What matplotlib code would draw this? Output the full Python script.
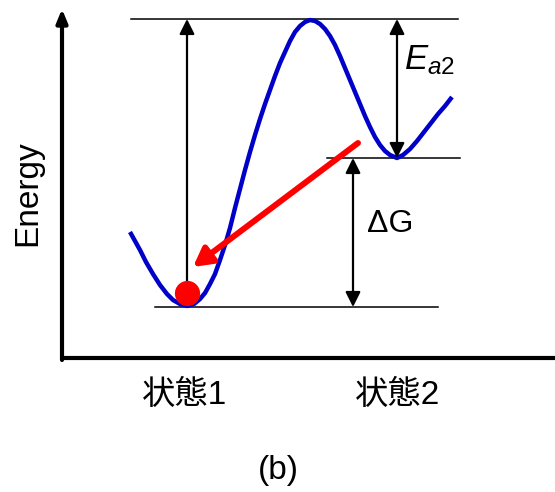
import numpy as np
import matplotlib.pyplot as plt

plt.rcParams['font.family'] = ['Liberation Sans', 'Noto Sans CJK JP', 'DejaVu Sans']
plt.rcParams['mathtext.fontset'] = 'custom'
plt.rcParams['mathtext.it'] = 'Liberation Sans:italic'
plt.rcParams['mathtext.rm'] = 'Liberation Sans'

# energy landscape (x, energy) in drawing units, y grows downward
curve_x = [130, 135, 140, 146, 153, 160, 167, 173, 180, 187, 194, 200, 205, 210, 215, 220,
           225, 230, 235, 240, 245, 250, 255, 260, 265, 270, 275, 280, 285, 290, 295, 300,
           305, 310, 315, 320, 325, 330, 335, 340, 345, 350, 355, 360, 365, 370, 375, 380,
           385, 390, 397, 403, 410, 417, 424, 431, 438, 445, 452]
curve_y = [232, 241, 250, 262, 274, 285, 294, 300, 304, 306, 304, 299, 293, 284, 274, 260,
           245, 228, 208, 189, 170, 152, 135, 119, 104, 90, 76, 63, 52, 41, 32, 26,
           22, 20, 21, 24, 29, 36, 45, 56, 68, 80, 92, 104, 116, 127, 137, 145,
           151, 155, 158, 155, 149, 141, 132, 123, 114, 106, 97]

levels = {'top': 19, 'state2': 158, 'state1': 307}
state_labels = ['状態1', '状態2']
state_x = [185, 398]

fig = plt.figure(figsize=(5.55, 4.92), dpi=100)
ax = fig.add_axes([0, 0, 1, 1])
ax.set_xlim(0, 555)
ax.set_ylim(492, 0)
ax.axis('off')

# axes with arrow heads
ax.annotate('', xy=(62, 9), xytext=(62, 360),
            arrowprops=dict(arrowstyle='-|>,head_length=0.8,head_width=0.33', lw=3, color='black',
                            shrinkA=0, shrinkB=0))
ax.plot([60.5, 560], [358, 358], color='black', lw=3, solid_capstyle='butt')

# reference levels
ax.plot([131, 458], [levels['top']] * 2, color='black', lw=1.1)
ax.plot([327, 460], [levels['state2']] * 2, color='black', lw=1.1)
ax.plot([155, 438], [levels['state1']] * 2, color='black', lw=1.1)

ax.plot(curve_x, curve_y, color='#0000c8', lw=3.2, solid_capstyle='butt', solid_joinstyle='round')

head = '-|>,head_length=0.9,head_width=0.45'
both = '<|-|>,head_length=0.9,head_width=0.45'
ax.annotate('', xy=(187, levels['top']), xytext=(187, 290),
            arrowprops=dict(arrowstyle=head, lw=1.6, color='black', shrinkA=0, shrinkB=0))
ax.annotate('', xy=(397, levels['top']), xytext=(397, levels['state2']),
            arrowprops=dict(arrowstyle=both, lw=1.6, color='black', shrinkA=0, shrinkB=0))
ax.annotate('', xy=(353, levels['state2']), xytext=(353, levels['state1']),
            arrowprops=dict(arrowstyle=both, lw=1.6, color='black', shrinkA=0, shrinkB=0))

# relaxation from state 2 to state 1
ax.annotate('', xy=(193, 267), xytext=(358, 143),
            arrowprops=dict(arrowstyle='-|>,head_length=1.1,head_width=0.6', lw=4.3, color='#ff0000',
                            shrinkA=0, shrinkB=0))
ax.scatter([187], [293], s=330, color='#ff0000', zorder=5, linewidths=0)

ax.text(28, 193, 'Energy', rotation=90, ha='center', va='center', fontsize=24)
ax.text(404, 60, r'$E_{a2}$', ha='left', va='center', fontsize=25)
ax.text(390, 224, 'ΔG', ha='center', va='center', fontsize=23)
for lab, x in zip(state_labels, state_x):
    ax.text(x, 395, lab, ha='center', va='center', fontsize=24)
ax.text(278, 470, '(b)', ha='center', va='center', fontsize=24)

fig.savefig('out.png', dpi=100)
